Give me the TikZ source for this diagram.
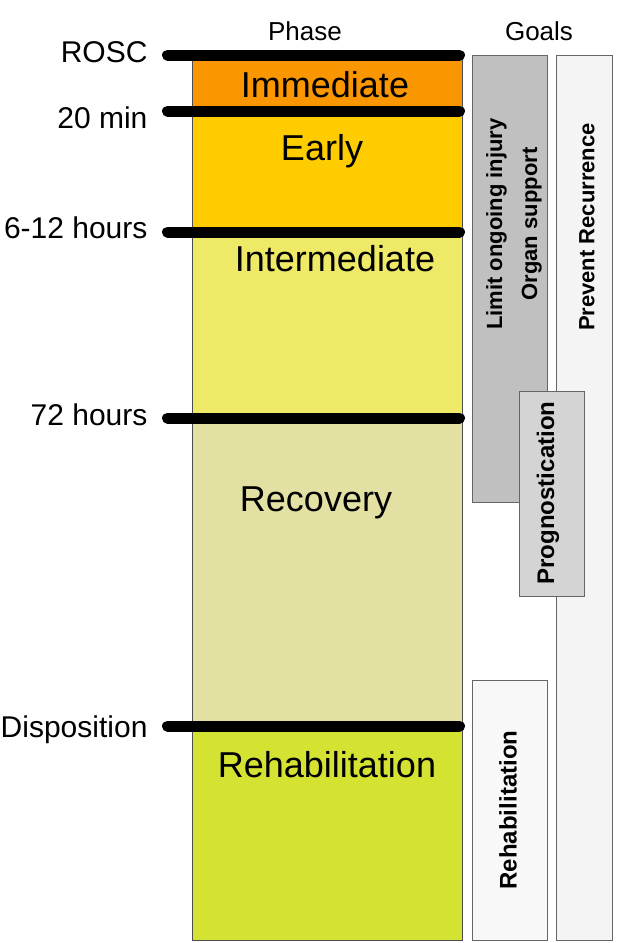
\documentclass[tikz,border=0pt]{standalone}
\usepackage{fontspec}
\setmainfont{Liberation Sans}
\usetikzlibrary{positioning}
\definecolor{immcol}{RGB}{249,150,0}
\definecolor{earlycol}{RGB}{255,204,0}
\definecolor{intercol}{RGB}{238,233,102}
\definecolor{recovcol}{RGB}{226,224,162}
\definecolor{rehabcol}{RGB}{212,226,50}
\definecolor{injurycol}{RGB}{192,192,192}
\definecolor{progcol}{RGB}{212,212,212}
\definecolor{prevcol}{RGB}{244,244,244}
\definecolor{rehabgoal}{RGB}{248,248,248}

\begin{document}
\begin{tikzpicture}[x=1pt, y=-1pt,
  seg/.style={draw=black!70, line width=0.8pt},
  phase/.style={font=\fontsize{36}{40}\selectfont, anchor=base},
  time/.style={font=\fontsize{30}{34}\selectfont, anchor=base east},
  head/.style={font=\fontsize{26}{30}\selectfont, anchor=base},
  bar/.style={line width=11pt, line cap=round},
  goalbox/.style={draw=black!60, line width=1pt},
  goal/.style={font=\bfseries\fontsize{22}{35}\selectfont,
    rotate=90, align=center}
]
\useasboundingbox (0,0) rectangle (634,943);

% phase column
\filldraw[seg, fill=immcol]   (192,55)  rectangle (462,111);
\filldraw[seg, fill=earlycol] (192,111) rectangle (462,232);
\filldraw[seg, fill=intercol] (192,232) rectangle (462,418);
\filldraw[seg, fill=recovcol] (192,418) rectangle (462,726);
\filldraw[seg, fill=rehabcol] (192,726) rectangle (462,940);

\node[phase] (imm)   at (325,97)  {Immediate};
\node[phase] (early) at (322,160) {Early};
\node[phase] (inter) at (335,271) {Intermediate};
\node[phase] (recov) at (316,511) {Recovery};
\node[phase] (rehab) at (327,777) {Rehabilitation};

% time marks
\foreach \y in {55,111,232,418,726}
  \draw[bar] (167.5,\y) -- (459.5,\y);

\node[time] (rosc)    at (151,62)  {ROSC};
\node[time] (min20)   at (151,128) {20 min};
\node[time] (hours6)  at (151,238) {6-12 hours};
\node[time] (hours72) at (151,425) {72 hours};
\node[time] (dispo)   at (151,737) {Disposition};

\node[head] (phasehd) at (305,40) {Phase};
\node[head] (goalshd) at (539,40) {Goals};

% goals
\filldraw[goalbox, fill=injurycol] (472,55)  rectangle (547,502);
\filldraw[goalbox, fill=prevcol]   (556,55)  rectangle (612,940);
\filldraw[goalbox, fill=progcol]   (519,391) rectangle (584,596);
\filldraw[goalbox, fill=rehabgoal] (472,680) rectangle (547,940);

\node[goal] (injury) at (514,224) {Limit ongoing injury\\Organ support};
\node[goal] (prevent) at (587,227) {Prevent Recurrence};
\node[goal, font=\bfseries\fontsize{24}{30}\selectfont] (prog) at (548,493) {Prognostication};
\node[goal, font=\bfseries\fontsize{24}{30}\selectfont] (rehabg) at (508,810) {Rehabilitation};
\end{tikzpicture}
\end{document}
